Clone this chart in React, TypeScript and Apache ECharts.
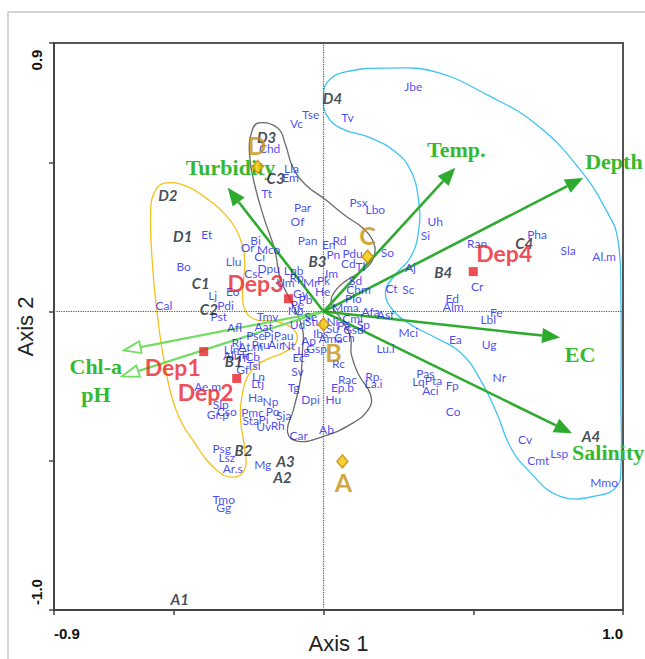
import React, { useEffect, useRef } from 'react';
import * as echarts from 'echarts';

// ---------- data ----------
const xTicks = [-0.9, -0.5, 0, 0.5, 1.0];
const yTicks = [-1.0, -0.5, 0, 0.5, 0.9];
const xTickLabels = [-0.9, 1.0];
const yTickLabels = [0.9, -1.0];

const species: [string, number, number][] = [
  ['Jbe', 0.300, 0.753], ['Tse', -0.043, 0.662], ['Vc', -0.090, 0.629], ['Tv', 0.080, 0.652],
  ['Chd', -0.180, 0.545], ['Lla', -0.107, 0.478], ['Em', -0.110, 0.448], ['Tt', -0.190, 0.395],
  ['Par', -0.070, 0.348], ['Of', -0.087, 0.301], ['Psx', 0.117, 0.365], ['Lbo', 0.173, 0.341],
  ['Uh', 0.373, 0.301], ['Si', 0.340, 0.254], ['Pan', -0.053, 0.237], ['En', 0.017, 0.224],
  ['Rd', 0.053, 0.237], ['So', 0.213, 0.197], ['Bi', -0.227, 0.237], ['Or', -0.253, 0.214],
  ['Mco', -0.183, 0.207], ['Ci', -0.213, 0.184], ['Pn', 0.033, 0.191], ['Pdu', 0.097, 0.194],
  ['Cd', 0.083, 0.161], ['Tl', 0.123, 0.151], ['Dpu', -0.183, 0.144], ['Csc', -0.233, 0.127],
  ['Lpb', -0.100, 0.137], ['Im', 0.027, 0.127], ['Aj', 0.290, 0.147], ['Um', -0.127, 0.097],
  ['Rp', -0.090, 0.114], ['Mr', -0.043, 0.097], ['Pk', 0.000, 0.104], ['Sd', 0.107, 0.104],
  ['Chm', 0.117, 0.074], ['Ct', 0.227, 0.077], ['Sc', 0.283, 0.074], ['He', -0.003, 0.067],
  ['Gy', -0.077, 0.060], ['Pb', -0.060, 0.040], ['Pe', -0.087, 0.023], ['Nb', -0.093, 0.003],
  ['Plo', 0.100, 0.043], ['Mma', 0.073, 0.013], ['Afa', 0.157, 0.000], ['Asf', 0.207, -0.010],
  ['Tmv', -0.187, -0.017], ['Ud', -0.087, -0.043], ['Se', -0.043, -0.017], ['Stu', -0.033, -0.033],
  ['Cmi', 0.097, -0.023], ['Sp', 0.133, -0.043], ['Ni', 0.030, -0.033], ['Pa', 0.067, -0.047],
  ['Gsd', 0.100, -0.060], ['Su', 0.030, -0.057], ['Ibs', -0.010, -0.074], ['Ama', 0.023, -0.090],
  ['Cch', 0.070, -0.087], ['Mci', 0.283, -0.070], ['Aat', -0.200, -0.050], ['Pse', -0.227, -0.080],
  ['Pj', -0.183, -0.080], ['Pau', -0.133, -0.080], ['Pru', -0.210, -0.110], ['Air', -0.160, -0.110],
  ['Nt', -0.117, -0.114], ['Ap', -0.050, -0.097], ['Gsp', -0.023, -0.124], ['Lg', -0.067, -0.130],
  ['Ec', -0.083, -0.154], ['Sv', -0.087, -0.201], ['Tg', -0.100, -0.254], ['Dpi', -0.043, -0.294],
  ['Hu', 0.033, -0.294], ['Rc', 0.050, -0.174], ['Rac', 0.080, -0.227], ['Ep.b', 0.063, -0.254],
  ['Rp', 0.163, -0.217], ['La.i', 0.167, -0.241], ['Lu.i', 0.207, -0.124], ['Pas', 0.340, -0.207],
  ['Lq', 0.317, -0.234], ['Pta', 0.367, -0.231], ['Aci', 0.357, -0.264], ['Fp', 0.430, -0.247],
  ['Ea', 0.440, -0.094], ['Ug', 0.553, -0.110], ['Nr', 0.587, -0.221], ['Lbl', 0.550, -0.027],
  ['Fe', 0.577, -0.003], ['Ed', 0.430, 0.043], ['Alm', 0.433, 0.017], ['Cr', 0.513, 0.084],
  ['Ran', 0.513, 0.227], ['Pha', 0.713, 0.258], ['Sla', 0.817, 0.204], ['Al.m', 0.937, 0.184],
  ['Co', 0.433, -0.334], ['Cv', 0.673, -0.428], ['Cmt', 0.717, -0.498], ['Lsp', 0.787, -0.475],
  ['Mmo', 0.937, -0.572], ['Et', -0.390, 0.258], ['Bo', -0.467, 0.151], ['Llu', -0.300, 0.167],
  ['Eo', -0.303, 0.067], ['Lj', -0.370, 0.054], ['Pdi', -0.327, 0.020], ['Pst', -0.350, -0.017],
  ['Cal', -0.533, 0.020], ['Afl', -0.297, -0.054], ['Rj', -0.290, -0.104], ['Lln', -0.307, -0.127],
  ['At.m', -0.243, -0.117], ['Ali', -0.313, -0.147], ['Ti', -0.263, -0.144], ['Tf', -0.273, -0.154],
  ['Cb', -0.237, -0.151], ['Tsi', -0.233, -0.181], ['Gf', -0.270, -0.194], ['Ln', -0.217, -0.217],
  ['Ltj', -0.220, -0.241], ['Ha', -0.227, -0.288], ['Np', -0.177, -0.301], ['Ae.m', -0.387, -0.251],
  ['Slp', -0.343, -0.311], ['Cso', -0.323, -0.334], ['Gr.p', -0.353, -0.344], ['Pmc', -0.237, -0.338],
  ['Po', -0.170, -0.334], ['Sja', -0.133, -0.348], ['Sta', -0.243, -0.365], ['Pi', -0.200, -0.361],
  ['Uv', -0.200, -0.385], ['Rh', -0.153, -0.381], ['Car', -0.083, -0.415], ['Ab', 0.010, -0.395],
  ['Psg', -0.340, -0.458], ['Lsz', -0.323, -0.488], ['Ar.s', -0.303, -0.525], ['Tmo', -0.333, -0.629],
  ['Gg', -0.333, -0.656], ['Mg', -0.203, -0.512],
];

const sites: [string, number, number][] = [
  ['D1', -0.470, 0.254], ['D2', -0.520, 0.391], ['D3', -0.190, 0.585], ['D4', 0.030, 0.716],
  ['C1', -0.410, 0.097], ['C2', -0.383, 0.010], ['C3', -0.160, 0.448], ['C4', 0.670, 0.231],
  ['B1', -0.300, -0.167], ['B2', -0.267, -0.465], ['B3', -0.020, 0.171], ['B4', 0.400, 0.134],
  ['A1', -0.480, -0.963], ['A2', -0.137, -0.555], ['A3', -0.127, -0.502], ['A4', 0.893, -0.418],
];

const centroids: [string, number, number][] = [
  ['A', 0.063, -0.502], ['B', 0.000, -0.043], ['C', 0.147, 0.184], ['D', -0.220, 0.485],
];
const centroidLabelOffsets = [[1, 21], [10, 28], [0, -22], [-1, -22]];

const depots: [string, number, number][] = [
  ['Dep1', -0.400, -0.134], ['Dep2', -0.290, -0.224], ['Dep3', -0.117, 0.043], ['Dep4', 0.500, 0.134],
];
const depotLabelOffsets = [[-31, 15], [-31, 14], [-33, -16], [31, -19]];

const envNames = ['Turbidity', 'Temp.', 'Depth', 'EC', 'Salinity', 'Chl-a', 'pH'];
const envX = [-0.320, 0.440, 0.867, 0.790, 0.830, -0.667, -0.673];
const envY = [0.415, 0.482, 0.448, -0.087, -0.408, -0.130, -0.217];
const envOpenHead = [false, false, false, false, false, true, true];
const envLabelOffsets = [[-42, -20], [1, -18], [2, -16], [20, 17], [0, 19], [-28, 16], [-26, 18]];
const envLabelAlign = ['left', 'center', 'left', 'center', 'left', 'center', 'center'];

const hullYellow: [number, number][] = [
  [-0.527, 0.431], [-0.460, 0.421], [-0.393, 0.381], [-0.327, 0.324], [-0.277, 0.241],
  [-0.263, 0.157], [-0.270, 0.074], [-0.263, 0.007], [-0.227, -0.027], [-0.160, -0.033],
  [-0.100, -0.060], [-0.090, -0.100], [-0.127, -0.134], [-0.203, -0.167], [-0.250, -0.211],
  [-0.270, -0.271], [-0.277, -0.361], [-0.263, -0.462], [-0.263, -0.528], [-0.303, -0.555],
  [-0.360, -0.528], [-0.427, -0.445], [-0.493, -0.328], [-0.533, -0.161], [-0.553, -0.027],
  [-0.570, 0.140], [-0.577, 0.341], [-0.560, 0.408],
];
const hullGray: [number, number][] = [
  [-0.217, 0.632], [-0.153, 0.615], [-0.127, 0.559], [-0.103, 0.485], [-0.060, 0.425],
  [0.007, 0.375], [0.073, 0.321], [0.130, 0.281], [0.163, 0.241], [0.170, 0.191],
  [0.140, 0.144], [0.080, 0.107], [0.037, 0.067], [0.027, 0.023], [0.060, -0.027],
  [0.090, -0.084], [0.093, -0.144], [0.117, -0.211], [0.157, -0.278], [0.150, -0.328],
  [0.090, -0.378], [0.000, -0.418], [-0.083, -0.435], [-0.120, -0.405], [-0.100, -0.328],
  [-0.077, -0.227], [-0.070, -0.127], [-0.070, -0.060], [-0.103, 0.023], [-0.143, 0.107],
  [-0.163, 0.207], [-0.197, 0.308], [-0.230, 0.425], [-0.247, 0.525], [-0.240, 0.602],
];
const hullBlue: [number, number][] = [
  [0.000, 0.716], [0.013, 0.769], [0.073, 0.803], [0.223, 0.816], [0.373, 0.803],
  [0.547, 0.726], [0.713, 0.625], [0.857, 0.475], [0.947, 0.334], [0.983, 0.241],
  [0.993, 0.040], [0.993, -0.294], [0.993, -0.528], [0.980, -0.585], [0.923, -0.615],
  [0.790, -0.619], [0.680, -0.528], [0.623, -0.452], [0.580, -0.344], [0.523, -0.227],
  [0.457, -0.137], [0.373, -0.087], [0.290, -0.043], [0.230, 0.007], [0.207, 0.067],
  [0.240, 0.124], [0.290, 0.181], [0.317, 0.268], [0.317, 0.375], [0.290, 0.475],
  [0.240, 0.535], [0.157, 0.582], [0.057, 0.615], [0.010, 0.659],
];
const hulls = [hullYellow, hullGray, hullBlue];
const hullColors = ['#f5c11c', '#6a6a6a', '#3ec3f2'];

export default function App() {
  const ref = useRef<HTMLDivElement>(null);
  useEffect(() => {
    if (!ref.current) return;
    const chart = echarts.init(ref.current, null, { renderer: 'svg' });
    const option: any = {
      animation: false,
      backgroundColor: '#ffffff',
      grid: { left: 54, top: 43, right: 22, bottom: 48, show: true, borderColor: '#555', borderWidth: 2, backgroundColor: 'transparent' },
      xAxis: {
        type: 'value', min: -0.9, max: 1.0,
        name: 'Axis 1', nameLocation: 'middle', nameGap: 22,
        nameTextStyle: { fontFamily: 'Liberation Sans', fontSize: 22, color: '#222' },
        axisLine: { show: true, onZero: false, lineStyle: { color: '#444', width: 2 } },
        axisTick: { show: true, customValues: xTicks, length: 5, lineStyle: { color: '#444', width: 1.5 } },
        axisLabel: { show: false },
        splitLine: { show: false },
      },
      yAxis: {
        type: 'value', min: -1.0, max: 0.9,
        name: 'Axis 2', nameLocation: 'middle', nameGap: 18,
        nameTextStyle: { fontFamily: 'Liberation Sans', fontSize: 22, color: '#222' },
        axisLine: { show: true, onZero: false, lineStyle: { color: '#444', width: 2 } },
        axisTick: { show: true, customValues: yTicks, length: 5, lineStyle: { color: '#444', width: 1.5 } },
        axisLabel: { show: false },
        splitLine: { show: false },
      },
      series: [
        {
          type: 'custom', z: 1, clip: false, silent: true,
          data: hulls.map((_, i) => [0, 0, i]),
          renderItem: (params: any, api: any) => {
            const pts = hulls[params.dataIndex].map((p) => api.coord(p));
            return {
              type: 'polygon',
              shape: { points: pts, smooth: 0.45 },
              style: { fill: 'none', stroke: hullColors[params.dataIndex], lineWidth: 1.3 },
            };
          },
          markLine: {
            silent: true, symbol: 'none', label: { show: false },
            lineStyle: { type: 'dotted', color: '#555', width: 1.2 },
            data: [{ xAxis: 0 }, { yAxis: 0 }],
          },
        },
        {
          type: 'custom', z: 2, clip: false, silent: true,
          data: envX.map((x, i) => [x, envY[i]]),
          renderItem: (params: any, api: any) => {
            const i = params.dataIndex;
            const s = api.coord([0, 0]);
            const e = api.coord([api.value(0), api.value(1)]);
            const dx = e[0] - s[0], dy = e[1] - s[1];
            const len = Math.hypot(dx, dy);
            const ux = dx / len, uy = dy / len;
            const nx = -uy, ny = ux;
            const open = envOpenHead[i];
            const L = open ? 17 : 18;
            const W = open ? 6 : 7.5;
            const bx = e[0] - ux * L, by = e[1] - uy * L;
            const color = open ? '#72dd62' : '#2eab2e';
            const off = envLabelOffsets[i];
            return {
              type: 'group',
              children: [
                { type: 'line', shape: { x1: s[0], y1: s[1], x2: bx, y2: by }, style: { stroke: color, lineWidth: open ? 2.2 : 2.6 } },
                {
                  type: 'polygon',
                  shape: { points: [[e[0], e[1]], [bx + nx * W, by + ny * W], [bx - nx * W, by - ny * W]] },
                  style: open ? { fill: '#ffffff', stroke: color, lineWidth: 1.8 } : { fill: color },
                },
                {
                  type: 'text', x: e[0] + off[0], y: e[1] + off[1],
                  style: {
                    text: envNames[i], fill: '#36b930', fontFamily: 'Liberation Serif', fontWeight: 'bold', fontSize: 22,
                    align: envLabelAlign[i], verticalAlign: 'middle',
                  },
                },
              ],
            };
          },
        },
        {
          type: 'scatter', z: 3, silent: true, symbol: 'circle', symbolSize: 1,
          itemStyle: { color: 'rgba(0,0,0,0)' },
          label: { show: true, position: 'inside', formatter: '{b}', color: '#1a1aee', fontFamily: 'Lato', fontSize: 12 },
          data: species.map(([n, x, y]) => ({ name: n, value: [x, y] })),
        },
        {
          type: 'scatter', z: 4, silent: true, symbol: 'circle', symbolSize: 1,
          itemStyle: { color: 'rgba(0,0,0,0)' },
          label: { show: true, position: 'inside', formatter: '{b}', color: '#13202d', fontFamily: 'Lato', fontSize: 15, fontWeight: 'bold', fontStyle: 'italic' },
          data: sites.map(([n, x, y]) => ({ name: n, value: [x, y] })),
        },
        {
          type: 'scatter', z: 5, silent: true, symbol: 'diamond', symbolSize: [11, 13],
          itemStyle: { color: '#f6c800', borderColor: '#c8880c', borderWidth: 1.5 },
          label: { show: true, position: 'inside', formatter: '{b}', color: '#c8900c', fontFamily: 'Lato', fontSize: 25, fontWeight: 'bold' },
          data: centroids.map(([n, x, y], i) => ({ name: n, value: [x, y], label: { offset: centroidLabelOffsets[i] } })),
        },
        {
          type: 'scatter', z: 6, silent: true, symbol: 'rect', symbolSize: 9,
          itemStyle: { color: '#e8202a' },
          label: { show: true, position: 'inside', formatter: '{b}', color: '#e8202a', fontFamily: 'Lato', fontSize: 23, fontWeight: 'bold' },
          data: depots.map(([n, x, y], i) => ({ name: n, value: [x, y], label: { offset: depotLabelOffsets[i] } })),
        },
      ],
    };
    chart.setOption(option);

    const g: any[] = [
      { type: 'rect', silent: true, z: 0, shape: { x: 8, y: 12, width: 760, height: 760 }, style: { fill: 'none', stroke: '#c6c6c6', lineWidth: 1.5 } },
    ];
    xTickLabels.forEach((v, i) => {
      const p = chart.convertToPixel({ gridIndex: 0 }, [v, -1.0]) as number[];
      g.push({
        type: 'text', x: p[0], y: p[1] + 23, silent: true,
        style: { text: v.toFixed(1), fill: '#111', fontFamily: 'Liberation Sans', fontWeight: 'bold', fontSize: 15, align: i === 0 ? 'left' : 'right', verticalAlign: 'middle' },
      });
    });
    yTickLabels.forEach((v) => {
      const p = chart.convertToPixel({ gridIndex: 0 }, [-0.9, v]) as number[];
      g.push({
        type: 'text', x: p[0] - 18, y: p[1] + (v > 0 ? 17 : -18), rotation: Math.PI / 2, silent: true,
        style: { text: v.toFixed(1), fill: '#111', fontFamily: 'Liberation Sans', fontWeight: 'bold', fontSize: 15, align: 'center', verticalAlign: 'middle' },
      });
    });
    chart.setOption({ graphic: g });

    return () => chart.dispose();
  }, []);
  return <div ref={ref} style={{ position: 'fixed', left: 0, top: 0, width: 645, height: 659 }} />;
}
